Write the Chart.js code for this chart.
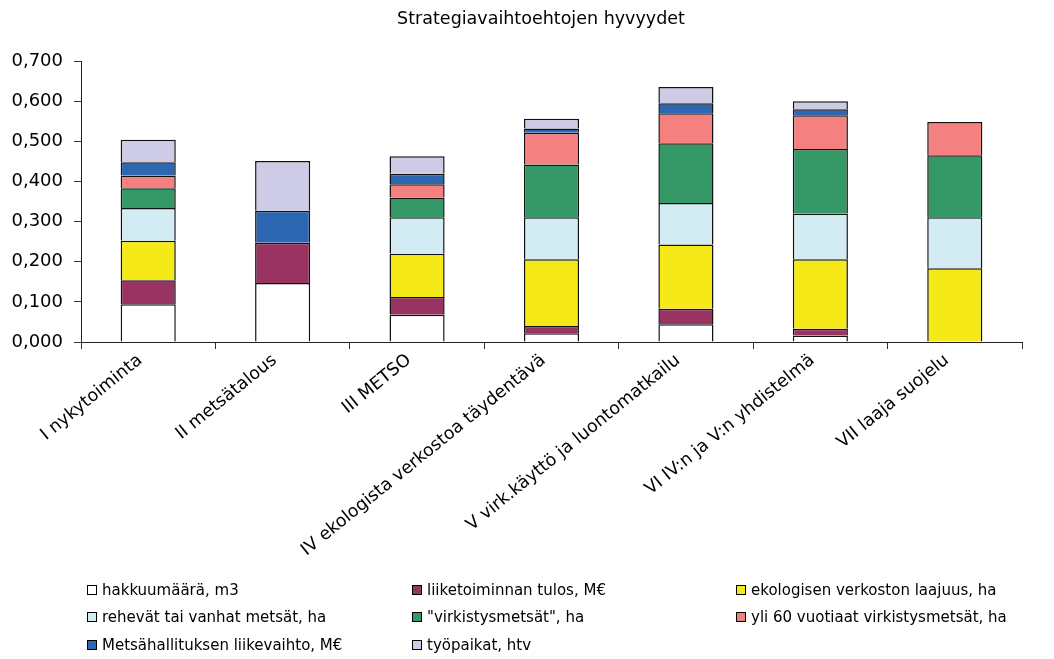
<!DOCTYPE html>
<html>
<head>
<meta charset="utf-8">
<script src="https://cdn.jsdelivr.net/npm/chart.js@4/dist/chart.umd.min.js"></script>
<style>
  body { margin: 0; background: #fff; }
  #wrap { position: relative; width: 1054px; height: 659px; }
  #title { position: absolute; left: 341px; width: 400px; top: 7px; text-align: center;
           font-family: 'DejaVu Sans', sans-serif; font-size: 17.5px; color: #000; line-height: 22px; }
  #legend { position: absolute; left: 0; top: 0; width: 1054px; height: 659px; pointer-events: none;
            font-family: 'DejaVu Sans', sans-serif; font-size: 15px; color: #000; }
  .item { position: absolute; display: flex; align-items: center; white-space: nowrap; height: 20px; }
  .box { width: 8px; height: 8px; border: 1px solid #000; margin-right: 5px; }
</style>
</head>
<body>
<div id="wrap">
  <canvas id="strategiat" width="1054" height="659"></canvas>
  <div id="title">Strategiavaihtoehtojen hyvyydet</div>
  <div id="legend"></div>
</div>
<script>
// Strategiavaihtoehdot
const strategies = ['I nykytoiminta', 'II metsätalous', 'III METSO', 'IV ekologista verkostoa täydentävä',
  'V virk.käyttö ja luontomatkailu', 'VI IV:n ja V:n yhdistelmä', 'VII laaja suojelu'];

// Hyvyydet kriteereittäin (luettu kuvasta)
const hakkuumaara   = [0.094, 0.147, 0.068, 0.022, 0.044, 0.016, 0];
const liiketulos    = [0.060, 0.100, 0.044, 0.018, 0.039, 0.017, 0];
const ekoVerkosto   = [0.098, 0, 0.108, 0.166, 0.160, 0.173, 0.184];
const reheva        = [0.082, 0, 0.091, 0.105, 0.103, 0.114, 0.127];
const virkistys     = [0.049, 0, 0.049, 0.131, 0.149, 0.161, 0.154];
const yli60         = [0.032, 0, 0.033, 0.079, 0.075, 0.084, 0.083];
const liikevaihto   = [0.033, 0.080, 0.026, 0.011, 0.025, 0.015, 0];
const tyopaikat     = [0.056, 0.124, 0.044, 0.024, 0.040, 0.020, 0];

const yTickLabels = ['0,000', '0,100', '0,200', '0,300', '0,400', '0,500', '0,600', '0,700'];

const seriesNames = ['hakkuumäärä, m3', 'liiketoiminnan tulos, M€', 'ekologisen verkoston laajuus, ha',
  'rehevät tai vanhat metsät, ha', '"virkistysmetsät", ha', 'yli 60 vuotiaat virkistysmetsät, ha',
  'Metsähallituksen liikevaihto, M€', 'työpaikat, htv'];
const seriesData = [hakkuumaara, liiketulos, ekoVerkosto, reheva, virkistys, yli60, liikevaihto, tyopaikat];
const colors = ['#ffffff', '#993462', '#f5ea17', '#d3ecf3', '#349966', '#f58080', '#2e67b1', '#cdcbe6'];

const FONT = 'DejaVu Sans';

const datasets = seriesNames.map((name, i) => ({
  label: name,
  data: seriesData[i],
  backgroundColor: colors[i],
  borderColor: '#111',
  borderWidth: 1.5,
  borderSkipped: 'start',
  categoryPercentage: 0.41,
  barPercentage: 1
}));

const config = {
  type: 'bar',
  data: { labels: strategies, datasets: datasets },
  options: {
    responsive: false,
    animation: false,
    layout: { padding: { left: 0, right: 32, top: 61, bottom: 0 } },
    plugins: {
      legend: { display: false },
      tooltip: { enabled: false },
      title: { display: false }
    },
    scales: {
      x: {
        stacked: true,
        grid: { drawOnChartArea: false, tickLength: 7, color: '#333' },
        border: { color: '#222', width: 1 },
        ticks: {
          color: '#000',
          font: { family: FONT, size: 17.5 },
          minRotation: 39,
          maxRotation: 39,
          autoSkip: false,
          padding: 1,
          labelOffset: -8
        },
        afterFit: scale => { scale.height = 659 - 342; }
      },
      y: {
        stacked: true,
        min: 0,
        max: 0.7,
        grid: { drawOnChartArea: false, tickLength: 7, color: '#333' },
        border: { color: '#222', width: 1 },
        ticks: {
          stepSize: 0.1,
          color: '#000',
          font: { family: FONT, size: 18 },
          padding: 11,
          callback: (value, index) => yTickLabels[index]
        },
        afterFit: scale => { scale.width = 81; }
      }
    }
  }
};

const chart = new Chart(document.getElementById('strategiat'), config);

// Legend in three columns, like the original
const legendCols = [87, 412, 736];
const legendRows = [590, 617, 645];
const legend = document.getElementById('legend');
seriesNames.forEach((name, i) => {
  const item = document.createElement('div');
  item.className = 'item';
  item.style.left = legendCols[i % 3] + 'px';
  item.style.top = (legendRows[Math.floor(i / 3)] - 10) + 'px';
  const box = document.createElement('span');
  box.className = 'box';
  box.style.background = colors[i];
  const txt = document.createElement('span');
  txt.textContent = name;
  item.appendChild(box);
  item.appendChild(txt);
  legend.appendChild(item);
});
</script>
</body>
</html>
